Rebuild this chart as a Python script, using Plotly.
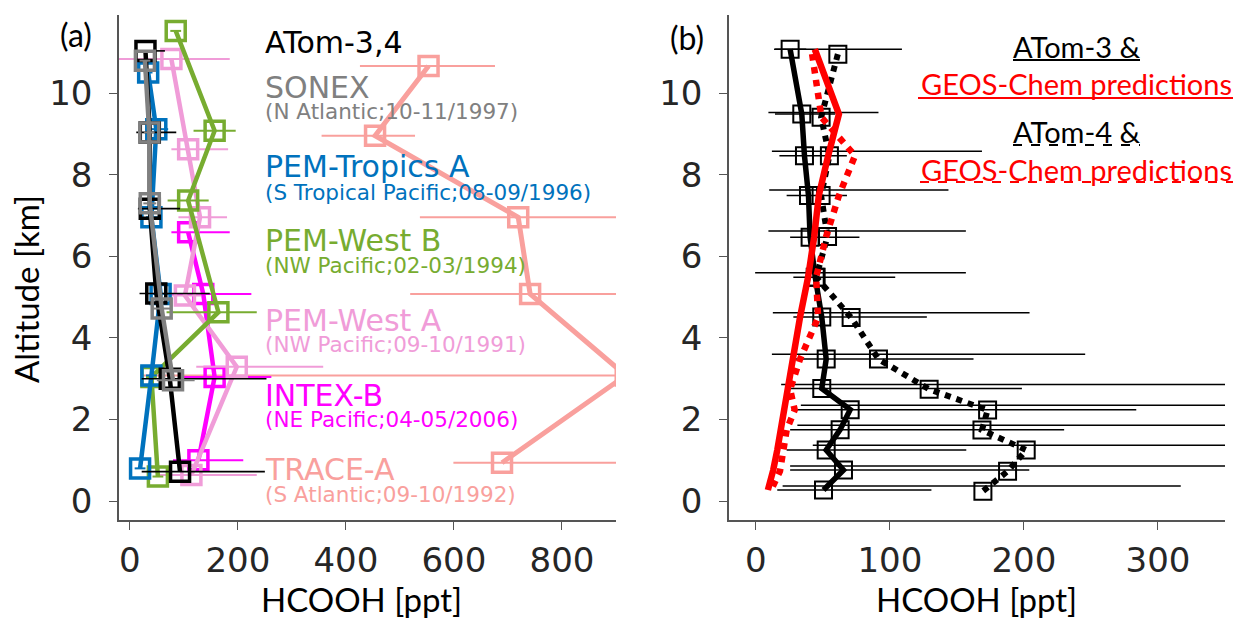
import plotly.graph_objects as go

W, H = 1238, 620

# ---------------- Panel (a) data ----------------
atom_alt = [11.04, 9.04, 7.17, 5.09, 3.00, 0.72]
atom_val = [29, 37, 37, 49, 74, 93]
atom_lo = [20, 25, 22, 31, 52, 71]
atom_hi = [36, 49, 56, 99, 179, 157]

sonex_alt = [10.80, 9.04, 7.30, 4.72, 2.96]
sonex_val = [28, 36, 37, 59, 80]
sonex_lo = [10, 10, 12, 18, 30]
sonex_hi = [10, 10, 12, 18, 40]

pta_alt = [10.51, 9.12, 6.96, 5.08, 3.08, 0.80]
pta_val = [34, 49, 40, 57, 40, 19]
pta_lo = [8, 20, 10, 15, 10, 10]
pta_hi = [8, 22, 12, 17, 10, 10]

pwb_alt = [11.53, 9.08, 7.37, 4.63, 3.04, 0.60]
pwb_val = [85, 157, 108, 164, 40, 52]
pwb_lo = [10, 39, 38, 96, 10, 10]
pwb_hi = [10, 39, 38, 71, 10, 10]

pwa_alt = [10.84, 8.63, 6.96, 5.04, 3.29, 0.64]
pwa_val = [77, 108, 130, 102, 198, 114]
pwa_lo = [100, 31, 40, 30, 75, 60]
pwa_hi = [108, 74, 50, 30, 160, 121]

intex_alt = [6.59, 5.08, 3.04, 1.00]
intex_val = [108, 136, 157, 127]
intex_lo = [31, 59, 60, 47]
intex_hi = [77, 89, 105, 83]

trace_alt = [10.67, 8.96, 6.96, 5.08, 3.08, 0.94]
trace_val = [553, 454, 719, 741, 918, 689]
trace_lo = [127, 99, 182, 222, 894, 90]
trace_hi = [123, 74, 300, 300, 300, 300]

# ---------------- Panel (b) data ----------------
alt3 = [11.08, 9.49, 8.47, 7.49, 6.47, 5.49, 4.51, 3.48, 2.76, 2.24, 1.75, 1.25, 0.76, 0.27]
atom3 = [25.6, 34.3, 36.3, 39.3, 40.5, 44.3, 49.2, 52.5, 49.2, 70.4, 62.9, 52.5, 65.4, 50.5]
atom3_lo = [12, 20, 18.7, 16.3, 14.9, 16.3, 21.2, 25.6, 27.3, 43.5, 37.3, 29.5, 39.8, 34.5]
atom3_hi = [12, 25, 31.6, 28.7, 36.8, 59.7, 78.4, 109.9, 149.3, 213.4, 167.1, 104.5, 138.6, 80.5]
gc3 = [44, 62, 54, 47, 43.5, 39, 33, 28, 24.5, 22, 19.5, 16, 13, 9]

alt4 = [10.96, 9.41, 8.47, 7.49, 6.49, 5.49, 4.50, 3.48, 2.74, 2.23, 1.74, 1.25, 0.73, 0.24]
alt4_bar = [11.08, 9.53, 8.58, 7.63, 6.62, 5.60, 4.62, 3.60, 2.86, 2.35, 1.86, 1.37, 0.86, 0.37]
atom4 = [61.2, 48.7, 54.9, 48.7, 53.5, 45.0, 71.1, 91.5, 129.3, 172.9, 168.7, 201.7, 187.8, 169.4]
atom4_lo = [46.8, 39.3, 42.9, 38.7, 44.1, 45.5, 58.4, 79.5, 110.4, 139.3, 137.7, 159.2, 162.2, 149.4]
atom4_hi = [47.8, 42.8, 113.8, 95.0, 103.2, 111.7, 133.1, 154.2, 260, 250, 250, 250, 250, 147.6]
gc4 = [42, 49, 74, 62, 52.5, 45, 46.5, 33, 25.6, 29, 23, 20.5, 18, 11]

x_ticks_a = [0, 200, 400, 600, 800]
x_ticks_b = [0, 100, 200, 300]
y_ticks = [0, 2, 4, 6, 8, 10]

C_BLACK = "#000000"
C_GRAY = "#808080"
C_BLUE = "#0072BD"
C_GREEN = "#77AC30"
C_PINK = "#F09CD8"
C_MAG = "#FF00FF"
C_SALMON = "#F9A09D"
C_RED = "#FF0000"

TEXT_FONT = "DejaVu Sans"
CAL_FONT = "Lato"


def px(X):
    return X / W


def py(Y):
    return 1 - Y / H


fig = go.Figure()


def series_a(alt, val, lo, hi, color, lw=4.5, elw=2.0):
    fig.add_trace(go.Scatter(
        x=val, y=alt, mode="lines+markers",
        line=dict(color=color, width=lw),
        marker=dict(symbol="square-open", size=19, color=color,
                    line=dict(color=color, width=3.5)),
        error_x=dict(type="data", symmetric=False, array=hi, arrayminus=lo,
                     color=color, thickness=elw, width=0),
        xaxis="x", yaxis="y", showlegend=False))


series_a(trace_alt, trace_val, trace_lo, trace_hi, C_SALMON, lw=5)
series_a(intex_alt, intex_val, intex_lo, intex_hi, C_MAG)
series_a(pwa_alt, pwa_val, pwa_lo, pwa_hi, C_PINK)
series_a(pwb_alt, pwb_val, pwb_lo, pwb_hi, C_GREEN)
series_a(pta_alt, pta_val, pta_lo, pta_hi, C_BLUE)
series_a(atom_alt, atom_val, atom_lo, atom_hi, C_BLACK, elw=1.6)
series_a(sonex_alt, sonex_val, sonex_lo, sonex_hi, C_GRAY)

# Panel (b)
fig.add_trace(go.Scatter(
    x=atom4, y=alt4_bar, mode="markers", marker=dict(size=1, opacity=0),
    error_x=dict(type="data", symmetric=False, array=atom4_hi, arrayminus=atom4_lo,
                 color="black", thickness=1.5, width=0),
    xaxis="x2", yaxis="y2", showlegend=False, hoverinfo="skip"))
fig.add_trace(go.Scatter(
    x=atom3, y=alt3, mode="lines+markers",
    line=dict(color="black", width=5.5),
    marker=dict(symbol="square-open", size=17, color="black",
                line=dict(color="black", width=2)),
    error_x=dict(type="data", symmetric=False, array=atom3_hi, arrayminus=atom3_lo,
                 color="black", thickness=1.5, width=0),
    xaxis="x2", yaxis="y2", showlegend=False))
fig.add_trace(go.Scatter(
    x=atom4, y=alt4, mode="lines+markers",
    line=dict(color="black", width=6, dash="dot"),
    marker=dict(symbol="square-open", size=17, color="black",
                line=dict(color="black", width=2)),
    xaxis="x2", yaxis="y2", showlegend=False))
fig.add_trace(go.Scatter(
    x=gc3, y=alt3, mode="lines", line=dict(color=C_RED, width=6.5),
    xaxis="x2", yaxis="y2", showlegend=False))
fig.add_trace(go.Scatter(
    x=gc4, y=alt4, mode="lines", line=dict(color=C_RED, width=6.5, dash="dot"),
    xaxis="x2", yaxis="y2", showlegend=False))

axis_common = dict(
    showgrid=False, zeroline=False, showline=True, linecolor="#555555", linewidth=1.5,
    ticks="outside", ticklen=8, tickwidth=1.3, tickcolor="#555555",
    tickfont=dict(family=TEXT_FONT, size=34, color="#262626"),
)

yr = [-0.466, 11.92]
ydom = [1 - 520 / H, 1 - 15 / H]

fig.update_layout(
    width=W, height=H,
    margin=dict(l=0, r=0, t=0, b=0),
    paper_bgcolor="white", plot_bgcolor="white",
    xaxis=dict(domain=[119 / W, 616 / W], range=[-20, 900], tickvals=x_ticks_a,
               anchor="y", ticklabelstandoff=1, **axis_common),
    yaxis=dict(domain=ydom, range=yr, tickvals=y_ticks, anchor="x",
               ticklabelstandoff=10, **axis_common),
    xaxis2=dict(domain=[729 / W, 1225 / W], range=[-20, 350], tickvals=x_ticks_b,
                anchor="y2", ticklabelstandoff=1, **axis_common),
    yaxis2=dict(domain=ydom, range=yr, tickvals=y_ticks, anchor="x2",
                ticklabelstandoff=10, **axis_common),
)

ann = []


def add_text(X, Y, text, color, size, family=TEXT_FONT, xanchor="left", angle=0):
    ann.append(dict(x=px(X), y=py(Y), xref="paper", yref="paper", text=text,
                    showarrow=False, xanchor=xanchor, yanchor="middle",
                    textangle=angle, borderpad=0,
                    font=dict(family=family, size=size, color=color)))


# Panel (a) labels
labels_a = [
    ("ATom-3,4", None, C_BLACK, 41, None),
    ("SONEX", "(N Atlantic;10-11/1997)", C_GRAY, 86, 110),
    ("PEM-Tropics A", "(S Tropical Pacific;08-09/1996)", C_BLUE, 166, 191),
    ("PEM-West B", "(NW Pacific;02-03/1994)", C_GREEN, 240, 264),
    ("PEM-West A", "(NW Pacific;09-10/1991)", C_PINK, 319, 344),
    ("INTEX-B", "(NE Pacific;04-05/2006)", C_MAG, 394, 419),
    ("TRACE-A", "(S Atlantic;09-10/1992)", C_SALMON, 468, 493),
]
for title, sub, col, yt, ys in labels_a:
    add_text(264, yt + 1, title, col, 30)
    if sub:
        add_text(264, ys + 1, sub, col, 21.5)

# Panel letters
add_text(76, 35, "(a)", "black", 32, family=CAL_FONT, xanchor="center")
add_text(687, 37, "(b)", "black", 32, family=CAL_FONT, xanchor="center")

# Axis titles
add_text(361, 599, "HCOOH [ppt]", "black", 33, family=CAL_FONT, xanchor="center")
add_text(976, 599, "HCOOH [ppt]", "black", 33, family=CAL_FONT, xanchor="center")
add_text(26, 289, "Altitude [km]", "black", 33, family=CAL_FONT, xanchor="center", angle=-90)

# Panel (b) legend text
add_text(1076, 46, "ATom-3 &", "black", 29, family=CAL_FONT, xanchor="center")
add_text(1076, 83, "GEOS-Chem predictions", C_RED, 29, family=CAL_FONT, xanchor="center")
add_text(1076, 131, "ATom-4 &", "black", 29, family=CAL_FONT, xanchor="center")
add_text(1076, 169, "GEOS-Chem predictions", C_RED, 29, family=CAL_FONT, xanchor="center")

fig.update_layout(annotations=ann)

shapes = []
for (x0, x1, yy, col, dash) in [
    (1013, 1140, 60, "black", "solid"),
    (918, 1233, 98, C_RED, "solid"),
    (1013, 1140, 145, "black", "dash"),
    (920, 1233, 182, C_RED, "dash"),
]:
    shapes.append(dict(type="line", xref="paper", yref="paper",
                       x0=px(x0), x1=px(x1), y0=py(yy), y1=py(yy),
                       line=dict(color=col, width=2.2, dash=dash)))
fig.update_layout(shapes=shapes)

fig.write_html("out.html", config={"displayModeBar": False},
               post_script="document.body.style.margin='0';document.body.style.overflow='hidden';")
